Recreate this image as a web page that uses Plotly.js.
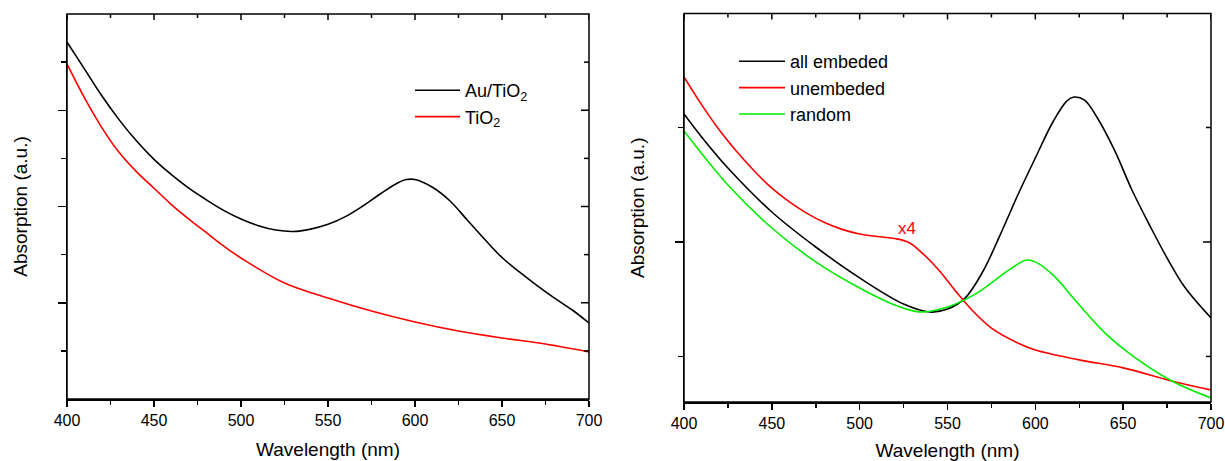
<!DOCTYPE html>
<html>
<head>
<meta charset="utf-8">
<script src="https://cdn.plot.ly/plotly-3.0.1.min.js"></script>
<style>html,body{margin:0;padding:0;background:#fff;}#chart{width:1225px;height:461px;}</style>
</head>
<body>
<div id="chart"></div>
<script>
// ---- Left panel data (wavelength nm, absorption a.u.) ----
var leftAuWl  = [400, 410, 420, 430, 440, 450, 460, 470, 480, 490, 500, 510, 520, 530, 540, 550, 560, 570, 580, 590, 595, 600, 610, 620, 630, 640, 650, 660, 670, 680, 690, 700];
var leftAuAbs = [3.709, 3.43, 3.15, 2.90, 2.68, 2.49, 2.33, 2.19, 2.07, 1.96, 1.87, 1.80, 1.755, 1.74, 1.765, 1.815, 1.895, 2.005, 2.13, 2.245, 2.28, 2.28, 2.20, 2.06, 1.86, 1.66, 1.47, 1.32, 1.18, 1.05, 0.93, 0.79];
var leftTiWl  = [400, 410, 420, 430, 440, 450, 460, 470, 480, 490, 500, 525, 550, 575, 600, 625, 650, 675, 700];
var leftTiAbs = [3.481, 3.13, 2.82, 2.56, 2.36, 2.19, 2.02, 1.87, 1.73, 1.59, 1.465, 1.205, 1.049, 0.914, 0.800, 0.706, 0.634, 0.571, 0.488];

// ---- Right panel data ----
var allWl  = [400, 410, 425, 450, 475, 500, 525, 540, 550, 560, 570, 580, 590, 600, 610, 618, 622, 628, 635, 645, 655, 665, 675, 685, 700];
var allAbs = [1.559, 1.459, 1.323, 1.131, 0.978, 0.843, 0.729, 0.694, 0.707, 0.755, 0.869, 1.031, 1.205, 1.367, 1.524, 1.616, 1.633, 1.620, 1.546, 1.402, 1.227, 1.074, 0.930, 0.803, 0.668];
var unWl   = [400, 410, 420, 430, 440, 450, 460, 470, 480, 490, 500, 510, 520, 528, 535, 545, 555, 565, 575, 590, 600, 625, 650, 678, 700];
var unAbs  = [1.721, 1.60, 1.49, 1.395, 1.31, 1.235, 1.175, 1.125, 1.085, 1.055, 1.035, 1.024, 1.015, 0.998, 0.956, 0.878, 0.782, 0.694, 0.624, 0.559, 0.528, 0.485, 0.450, 0.392, 0.354];
var rndWl  = [400, 425, 450, 475, 500, 520, 535, 550, 565, 575, 585, 595, 600, 610, 625, 640, 655, 678, 700];
var rndAbs = [1.485, 1.249, 1.061, 0.913, 0.799, 0.725, 0.694, 0.716, 0.769, 0.821, 0.878, 0.921, 0.913, 0.856, 0.725, 0.600, 0.505, 0.392, 0.319];

// ---- Tick values ----
var xTickVals = [400, 450, 500, 550, 600, 650, 700];
var xTickText = ['400', '450', '500', '550', '600', '650', '700'];
var xMinorVals = [425, 475, 525, 575, 625, 675];
var yMajorL = [1, 2, 3], yMinorL = [0.5, 1.5, 2.5, 3.5];
var yMajorR = [1], yMinorR = [0.5, 1.5];
var rangeX = [400, 700];
var rangeL = [0, 4.0], rangeR = [0.301, 1.998];

var FONT = 'Liberation Sans, Arial, sans-serif';

function ln(color){ return {color: color, width: 1.6, shape: 'spline', smoothing: 1}; }

var traces = [
  {x: leftAuWl, y: leftAuAbs, name: 'Au/TiO<sub>2</sub>', mode: 'lines', line: ln('#000000'), xaxis: 'x', yaxis: 'y', legend: 'legend'},
  {x: leftTiWl, y: leftTiAbs, name: 'TiO<sub>2</sub>', mode: 'lines', line: ln('#ff0000'), xaxis: 'x', yaxis: 'y', legend: 'legend'},
  {x: allWl, y: allAbs, name: 'all embeded', mode: 'lines', line: ln('#000000'), xaxis: 'x2', yaxis: 'y2', legend: 'legend2'},
  {x: unWl, y: unAbs, name: 'unembeded', mode: 'lines', line: ln('#ff0000'), xaxis: 'x2', yaxis: 'y2', legend: 'legend2'},
  {x: rndWl, y: rndAbs, name: 'random', mode: 'lines', line: ln('#00ee00'), xaxis: 'x2', yaxis: 'y2', legend: 'legend2'}
];

var W = 1225, H = 461;
var dLx = [67/W, 589/W], dLy = [1-399/H, 1-14/H];
var dRx = [684/W, 1211/W], dRy = [1-402/H, 1-13.5/H];

function xMain(domain, anchor){
  return {domain: domain, anchor: anchor, range: rangeX.slice(), tickmode: 'array', tickvals: xTickVals, ticktext: xTickText,
    ticks: 'outside', ticklen: 6, tickwidth: 1.5, tickcolor: '#000', showline: true, linecolor: '#000', linewidth: 1.5,
    showgrid: false, zeroline: false, tickfont: {family: FONT, size: 16, color: '#000'},
    minor: {tickvals: xMinorVals, ticks: 'outside', ticklen: 4, tickwidth: 1.5, tickcolor: '#000', showgrid: false},
    title: {text: 'Wavelength (nm)', font: {family: FONT, size: 19, color: '#000'}, standoff: 15}};
}
function yMain(domain, anchor, range, major, minor){
  return {domain: domain, anchor: anchor, range: range.slice(), tickmode: 'array', tickvals: major, ticks: 'outside', ticklen: 8, tickwidth: 1.5, tickcolor: '#000',
    showline: true, linecolor: '#000', linewidth: 1.5, showticklabels: false, showgrid: false, zeroline: false,
    minor: {tickvals: minor, ticks: 'outside', ticklen: 5, tickwidth: 1.5, tickcolor: '#000', showgrid: false},
    title: {text: 'Absorption (a.u.)', font: {family: FONT, size: 19, color: '#000'}, standoff: 25}};
}

// frame (top/right edges) and inward mirrored ticks, built from the tick arrays
var shapes = [];
var FR = {color: '#000', width: 1.5};
function frame(xr, yr, majorY, minorY){
  shapes.push({type: 'rect', xref: xr + ' domain', yref: yr + ' domain', x0: 0, x1: 1, y0: 0, y1: 1, line: FR, layer: 'above'});
  xTickVals.concat(xMinorVals).forEach(function(v, i){
    var len = i < xTickVals.length ? 6 : 4;
    shapes.push({type: 'line', xref: xr, x0: v, x1: v, yref: yr + ' domain', ysizemode: 'pixel', yanchor: 1, y0: 0, y1: -len, line: FR, layer: 'above'});
  });
  majorY.concat(minorY).forEach(function(v, i){
    var len = i < majorY.length ? 8 : 5;
    shapes.push({type: 'line', yref: yr, y0: v, y1: v, xref: xr + ' domain', xsizemode: 'pixel', xanchor: 1, x0: 0, x1: -len, line: FR, layer: 'above'});
  });
}
frame('x', 'y', yMajorL, yMinorL);
frame('x2', 'y2', yMajorR, yMinorR);

var layout = {
  width: W, height: H, margin: {l: 0, r: 0, t: 0, b: 0},
  paper_bgcolor: '#fff', plot_bgcolor: 'rgba(0,0,0,0)',
  font: {family: FONT, color: '#000'},
  xaxis: xMain(dLx, 'y'),
  yaxis: yMain(dLy, 'x', rangeL, yMajorL, yMinorL),
  xaxis2: xMain(dRx, 'y2'),
  yaxis2: yMain(dRy, 'x2', rangeR, yMajorR, yMinorR),
  shapes: shapes,
  legend: {x: 410/W, y: 1-72/H, xanchor: 'left', yanchor: 'top', bgcolor: 'rgba(0,0,0,0)', borderwidth: 0, itemwidth: 45,
    font: {family: FONT, size: 18, color: '#000'}, tracegroupgap: 0},
  legend2: {x: 734/W, y: 1-43/H, xanchor: 'left', yanchor: 'top', bgcolor: 'rgba(0,0,0,0)', borderwidth: 0, itemwidth: 46,
    font: {family: FONT, size: 18, color: '#000'}, tracegroupgap: 0},
  annotations: [
    {x: 527, y: 1.06, xref: 'x2', yref: 'y2', text: 'x4', showarrow: false, font: {family: FONT, size: 17, color: '#ff0000'}}
  ]
};

Plotly.newPlot('chart', traces, layout, {staticPlot: true, displayModeBar: false});
</script>
</body>
</html>
